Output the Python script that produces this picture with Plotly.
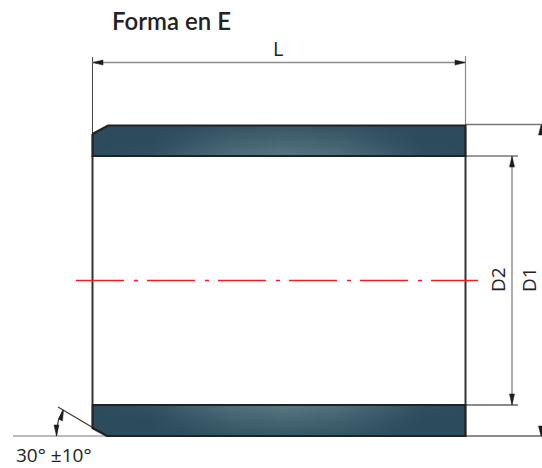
import plotly.graph_objects as go

# --- drawing geometry (pixel-like units) ---
title_text = "Forma en E"
labels = ["L", "D2", "D1", "30° ±10°"]

left_x, right_x = 92.5, 465.5
top_band_x = [92.5, 108, 465.5, 465.5, 92.5, 92.5]
top_band_y = [134, 125.5, 125.5, 156, 156, 134]
bot_band_x = [92.5, 465.5, 465.5, 107, 92.5, 92.5]
bot_band_y = [405, 405, 436, 436, 428, 405]

# brightness samples of the steel shading
grad_x = [93, 150, 180, 230, 285, 340, 390, 420, 466]
top_grad_y = [125, 140, 156]
top_grad_z = [
    [0.00, 0.00, 0.02, 0.18, 0.28, 0.18, 0.02, 0.00, 0.00],
    [0.00, 0.00, 0.18, 0.50, 0.62, 0.50, 0.16, 0.00, 0.00],
    [0.00, 0.12, 0.42, 0.80, 1.00, 0.80, 0.40, 0.08, 0.00],
]
bot_grad_y = [405, 420, 436]
bot_grad_z = [
    [0.00, 0.12, 0.42, 0.80, 1.00, 0.80, 0.40, 0.08, 0.00],
    [0.00, 0.00, 0.18, 0.50, 0.62, 0.50, 0.16, 0.00, 0.00],
    [0.00, 0.00, 0.02, 0.18, 0.28, 0.18, 0.02, 0.00, 0.00],
]

# white polygons trimming the shading to the two band outlines
mask_x = [
    [30, 92.5, 108, 530, 530, 30],
    [30, 530, 530, 30],
    [30, 92.5, 92.5, 30],
    [465.5, 530, 530, 465.5],
    [30, 530, 530, 30],
    [30, 92.5, 107, 530, 530, 30],
    [30, 92.5, 92.5, 30],
    [465.5, 530, 530, 465.5],
]
mask_y = [
    [134, 134, 125.5, 125.5, 100, 100],
    [156, 156, 180, 180],
    [100, 100, 180, 180],
    [100, 100, 180, 180],
    [405, 405, 385, 385],
    [428, 428, 436, 436, 460, 460],
    [385, 385, 460, 460],
    [385, 385, 460, 460],
]

# (x list, y list, colour, width)
thin_lines = [
    ([92.5, 92.5], [57, 134], "#444444", 1.0),
    ([465.5, 465.5], [56, 125], "#8a8a8a", 1.2),
    ([92, 466], [62.5, 62.5], "#8a8a8a", 1.6),
    ([466, 542], [124.5, 124.5], "#777777", 1.4),
    ([466, 518], [156, 156], "#777777", 1.4),
    ([466, 518], [405, 405], "#666666", 1.4),
    ([466, 542], [436, 436], "#666666", 1.4),
    ([512, 512], [156, 405], "#777777", 1.2),
    ([13, 107], [436, 436], "#777777", 1.2),
    ([58, 107], [407, 436], "#333333", 1.1),
]
body_x = [[92.5, 92.5], [465.5, 465.5]]
body_y = [[156, 405], [156, 405]]

arc_x = [56.5, 57.0, 58.5, 60.5, 63.0]
arc_y = [436, 428, 420, 415, 410]

arrow_heads = [
    ([92.5, 103, 103, 92.5], [62.5, 60, 65, 62.5]),
    ([465.5, 455, 455, 465.5], [62.5, 60, 65, 62.5]),
    ([512, 509.5, 514.5, 512], [156, 167, 167, 156]),
    ([512, 509.5, 514.5, 512], [405, 394, 394, 405]),
    ([541, 538.5, 542, 542, 541], [125, 135, 135, 125, 125]),
    ([541, 538.5, 542, 542, 541], [436, 426, 426, 436, 436]),
    ([56.5, 54, 59, 56.5], [436, 425, 425, 436]),
    ([63.5, 58.5, 62.5, 63.5], [410, 419, 421, 410]),
]

center_x = [76, 478]
center_y = [280.5, 280.5]

steel_scale = [[0, "#2c4b5c"], [1, "#587783"]]

fig = go.Figure()
for gy, gz in ((top_grad_y, top_grad_z), (bot_grad_y, bot_grad_z)):
    fig.add_trace(go.Heatmap(x=grad_x, y=gy, z=gz, zmin=0, zmax=1, zsmooth="best",
                             colorscale=steel_scale, showscale=False, hoverinfo="skip"))
for mx, my in zip(mask_x, mask_y):
    fig.add_trace(go.Scatter(x=mx, y=my, mode="none", fill="toself", fillcolor="white", hoverinfo="skip"))

for x, y, c, w in thin_lines:
    fig.add_trace(go.Scatter(x=x, y=y, mode="lines", line=dict(color=c, width=w), hoverinfo="skip"))
fig.add_trace(go.Scatter(x=arc_x, y=arc_y, mode="lines", line=dict(color="#333333", width=1.2),
                         hoverinfo="skip"))
for x, y in arrow_heads:
    fig.add_trace(go.Scatter(x=x, y=y, mode="lines", fill="toself", fillcolor="#1d1d1b",
                             line=dict(color="#1d1d1b", width=0.5), hoverinfo="skip"))
for x, y in zip(body_x, body_y):
    fig.add_trace(go.Scatter(x=x, y=y, mode="lines", line=dict(color="#333333", width=2), hoverinfo="skip"))
for x, y in ((top_band_x, top_band_y), (bot_band_x, bot_band_y)):
    fig.add_trace(go.Scatter(x=x, y=y, mode="lines", line=dict(color="#222222", width=2.2), hoverinfo="skip"))
fig.add_trace(go.Scatter(x=center_x, y=center_y, mode="lines",
                         line=dict(color="#f01c24", width=1.6, dash="48px,10px,4px,9px"), hoverinfo="skip"))

fig.update_layout(
    width=542, height=468, autosize=False, margin=dict(l=0, r=0, t=0, b=0),
    paper_bgcolor="white", plot_bgcolor="white", showlegend=False,
    xaxis=dict(range=[0, 542], visible=False, fixedrange=True),
    yaxis=dict(range=[468, 0], visible=False, fixedrange=True),
    annotations=[
        dict(x=110, y=20, text=title_text, xanchor="left", yanchor="middle", showarrow=False,
             font=dict(family="Lato", size=24, color="#222222", weight=600)),
        dict(x=278, y=48, text=labels[0], showarrow=False, font=dict(family="Open Sans", size=20, color="#222222")),
        dict(x=498, y=280, text=labels[1], textangle=-90, showarrow=False, font=dict(family="Open Sans", size=19, color="#222222")),
        dict(x=529, y=280, text=labels[2], textangle=-90, showarrow=False, font=dict(family="Open Sans", size=19, color="#222222")),
        dict(x=14, y=454.5, text=labels[3], xanchor="left", showarrow=False, font=dict(family="Open Sans", size=19, color="#222222")),
    ],
)
fig.write_html("out.html", config=dict(displayModeBar=False), post_script="document.body.style.margin='0';")
